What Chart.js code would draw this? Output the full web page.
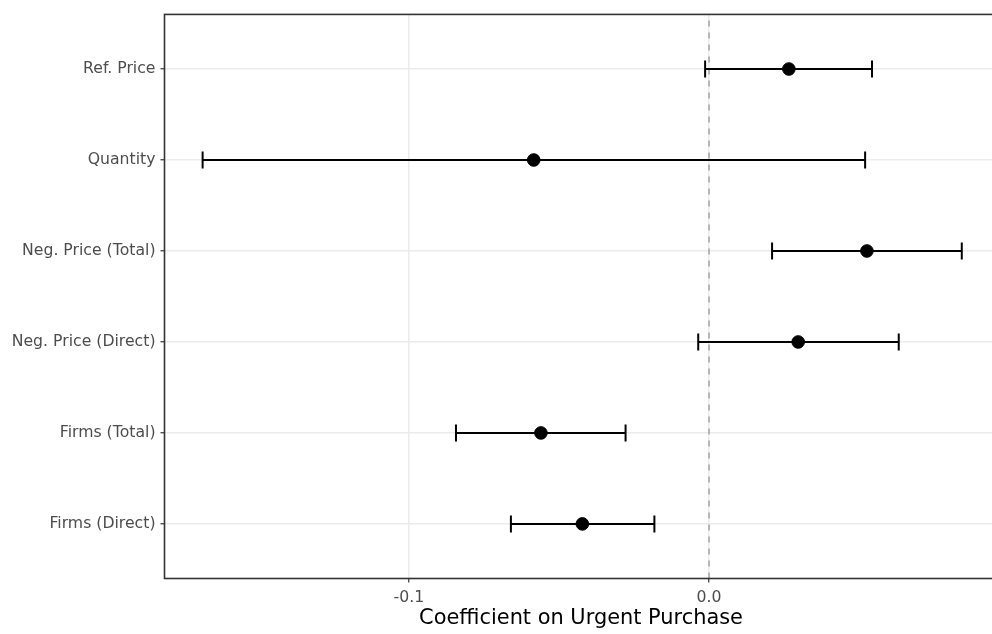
<!DOCTYPE html>
<html>
<head>
<meta charset="utf-8">
<script src="https://cdn.jsdelivr.net/npm/chart.js@4.4.1/dist/chart.umd.min.js"></script>
<style>
  html, body { margin: 0; padding: 0; background: #fff; overflow: hidden; }
  #wrap { width: 992px; height: 634px; overflow: hidden; }
</style>
</head>
<body>
<div id="wrap"><canvas id="coefChart" width="1008" height="634"></canvas></div>
<script>
// Coefficients, top row first
const categories = ['Ref. Price', 'Quantity', 'Neg. Price (Total)', 'Neg. Price (Direct)', 'Firms (Total)', 'Firms (Direct)'];
const estimates = [0.0266, -0.0584, 0.0526, 0.0297, -0.0560, -0.0422];
const lower = [-0.0013, -0.1687, 0.0210, -0.0036, -0.0843, -0.0660];
const upper = [0.0543, 0.0520, 0.0842, 0.0632, -0.0278, -0.0182];
const xTicks = [-0.1, 0.0];

// row position on the y scale (top row gets the highest value)
const rowPos = categories.map((c, i) => categories.length - i);

const font = '"DejaVu Sans"';
Chart.defaults.font.family = font;

const datasets = [];

// points first so they are drawn on top
datasets.push({
    data: estimates.map((v, i) => ({ x: v, y: rowPos[i] })),
    backgroundColor: '#000',
    borderColor: '#000',
    pointRadius: 6.3,
    pointHoverRadius: 6.3,
    showLine: false
});

// error bars with end caps
lower.forEach((lo, i) => {
    datasets.push({
        data: [{ x: lo, y: rowPos[i] }, { x: upper[i], y: rowPos[i] }],
        showLine: true,
        borderColor: '#000',
        borderWidth: 2,
        pointStyle: 'line',
        pointRotation: 90,
        pointRadius: 8.5,
        pointHoverRadius: 8.5,
        pointBorderWidth: 2,
        pointBorderColor: '#000'
    });
});

// dashed reference line at zero
datasets.push({
    data: [{ x: 0, y: 0.4 }, { x: 0, y: 6.6 }],
    showLine: true,
    borderColor: '#a3a3a3',
    borderWidth: 1.5,
    borderDash: [6, 6],
    pointRadius: 0,
    pointHoverRadius: 0
});

// panel border on all four sides
const panelBorder = {
    id: 'panelBorder',
    afterDatasetsDraw(chart) {
        const { ctx, chartArea } = chart;
        ctx.save();
        ctx.strokeStyle = '#333333';
        ctx.lineWidth = 1.6;
        ctx.strokeRect(chartArea.left, chartArea.top, chartArea.right - chartArea.left, chartArea.bottom - chartArea.top);
        ctx.restore();
    }
};

const ctx = document.getElementById('coefChart').getContext('2d');
const coefChart = new Chart(ctx, {
    type: 'scatter',
    data: { datasets: datasets },
    plugins: [panelBorder],
    options: {
        responsive: false,
        animation: false,
        devicePixelRatio: 1,
        layout: { padding: { top: 12.5, left: 0, right: 8, bottom: 0 } },
        plugins: {
            legend: { display: false },
            tooltip: { enabled: false }
        },
        scales: {
            x: {
                type: 'linear',
                min: -0.1814,
                max: 0.0961,
                afterBuildTicks: (scale) => { scale.ticks = xTicks.map(v => ({ value: v })); },
                afterFit: (scale) => { scale.height = 55.5; },
                border: { display: false },
                grid: {
                    color: '#ebebeb',
                    lineWidth: 1.5,
                    tickColor: '#333333',
                    tickLength: 4,
                    tickWidth: 1.2
                },
                ticks: {
                    color: '#4d4d4d',
                    font: { family: font, size: 15.7 },
                    padding: 6.5,
                    maxRotation: 0,
                    callback: (v) => v.toFixed(1)
                },
                title: {
                    display: true,
                    text: 'Coefficient on Urgent Purchase',
                    color: '#000',
                    font: { family: font, size: 20.9 },
                    padding: { top: 0, bottom: 2.5 }
                }
            },
            y: {
                type: 'linear',
                min: 0.4,
                max: 6.6,
                afterBuildTicks: (scale) => { scale.ticks = rowPos.map(v => ({ value: v })); },
                afterFit: (scale) => { scale.width = 164.5; },
                border: { display: false },
                grid: {
                    color: '#ebebeb',
                    lineWidth: 1.5,
                    tickColor: '#333333',
                    tickLength: 4,
                    tickWidth: 1.2
                },
                ticks: {
                    color: '#4d4d4d',
                    font: { family: font, size: 15.7 },
                    padding: 5,
                    callback: (v) => categories[categories.length - v]
                }
            }
        }
    }
});
</script>
</body>
</html>
